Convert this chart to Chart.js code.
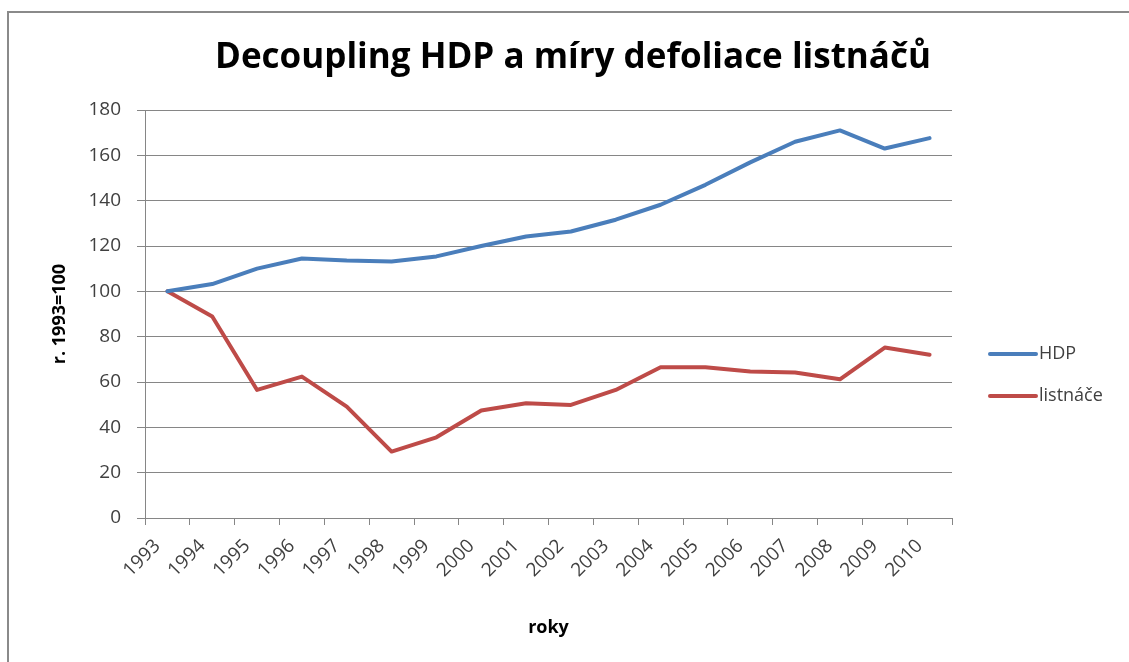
<!DOCTYPE html>
<html>
<head>
<meta charset="utf-8">
<script src="https://cdn.jsdelivr.net/npm/chart.js@4/dist/chart.umd.min.js"></script>
<style>
html,body{margin:0;padding:0;background:#fff;}
#wrap{position:relative;width:1129px;height:662px;overflow:hidden;}
#frame{position:absolute;left:7px;top:11px;width:1200px;height:700px;border-left:2px solid #8a8a8a;border-top:2px solid #8a8a8a;}
canvas{position:absolute;left:0;top:0;}
</style>
</head>
<body>
<div id="wrap">
<div id="frame"></div>
<canvas id="c" width="1129" height="662"></canvas>
</div>
<script>
const years = ["1993","1994","1995","1996","1997","1998","1999","2000","2001","2002","2003","2004","2005","2006","2007","2008","2009","2010"];
const hdp = [100, 103.2, 110, 114.5, 113.6, 113.2, 115.4, 120, 124.2, 126.4, 131.6, 138.2, 147, 156.9, 166, 171, 163, 167.6];
const listnace = [100, 88.9, 56.5, 62.4, 49.1, 29.3, 35.6, 47.4, 50.6, 49.9, 56.5, 66.5, 66.5, 64.6, 64.2, 61.2, 75.2, 72];
const seriesNames = ["HDP", "listnáče"];
const chartTitle = "Decoupling HDP a míry defoliace listnáčů";
const yTitle = "r. 1993=100";
const xTitle = "roky";

const FONT = "'Open Sans', 'Noto Sans', sans-serif";
const GRID = "#868686";
const TXT = "#404040";

const legendPlugin = {
  id: 'sideLegend',
  afterDraw(chart) {
    const ctx = chart.ctx;
    const ys = [354, 396];
    ctx.save();
    chart.data.datasets.forEach((ds, i) => {
      const y = ys[i];
      ctx.strokeStyle = ds.borderColor;
      ctx.lineWidth = 4;
      ctx.lineCap = 'round';
      ctx.beginPath();
      ctx.moveTo(990, y);
      ctx.lineTo(1036, y);
      ctx.stroke();
      ctx.fillStyle = TXT;
      ctx.font = "18px " + FONT;
      ctx.textAlign = 'left';
      ctx.textBaseline = 'middle';
      ctx.fillText(ds.label, 1039, y);
    });
    ctx.restore();
  }
};

new Chart(document.getElementById('c'), {
  type: 'line',
  data: {
    labels: years,
    datasets: [
      { label: seriesNames[0], data: hdp, borderColor: '#4A7EBB', backgroundColor: '#4A7EBB', borderWidth: 4, pointRadius: 0, tension: 0, borderJoinStyle: 'round', borderCapStyle: 'round', yAxisID: 'y' },
      { label: seriesNames[1], data: listnace, borderColor: '#BE4B48', backgroundColor: '#BE4B48', borderWidth: 4, pointRadius: 0, tension: 0, borderJoinStyle: 'round', borderCapStyle: 'round', yAxisID: 'y' }
    ]
  },
  options: {
    responsive: false,
    devicePixelRatio: 1,
    animation: false,
    layout: { padding: { left: 17, right: 0, top: 0, bottom: 0 } },
    plugins: {
      legend: { display: false },
      tooltip: { enabled: false },
      title: {
        display: true,
        text: chartTitle,
        color: '#000',
        font: { family: FONT, size: 35, weight: 'bold', lineHeight: 1.2 },
        padding: { top: 37, bottom: 31 }
      }
    },
    scales: {
      x: {
        type: 'category',
        offset: true,
        border: { display: true, color: GRID, width: 1 },
        grid: { display: true, drawOnChartArea: false, drawTicks: true, tickLength: 7, offset: true, color: GRID },
        ticks: {
          color: TXT, font: { family: FONT, size: 19 },
          minRotation: 45, maxRotation: 45, autoSkip: false, padding: 10, labelOffset: -10
        },
        title: { display: true, text: xTitle, color: '#000', font: { family: FONT, size: 18, weight: 'bold', lineHeight: 1.2 }, padding: { top: 0, bottom: 23 } },
        afterFit(scale) { scale.height = 662 - 518; }
      },
      y: {
        min: 0, max: 180,
        border: { display: true, color: GRID, width: 1 },
        grid: { color: GRID, lineWidth: 1, drawTicks: true, tickLength: 8 },
        ticks: { stepSize: 20, color: TXT, font: { family: FONT, size: 19 }, padding: 16 },
        title: { display: true, text: yTitle, color: '#000', font: { family: FONT, size: 18, weight: 'bold', lineHeight: 1.2 }, padding: { top: 32, bottom: 0 } },
        afterFit(scale) { scale.width = 145 - 17; }
      },
      legendSpace: {
        type: 'linear',
        position: 'right',
        display: true,
        grid: { display: false, drawTicks: false },
        border: { display: false },
        ticks: { display: false },
        afterFit(scale) { scale.width = 1129 - 952; }
      }
    }
  },
  plugins: [legendPlugin]
});
</script>
</body>
</html>
